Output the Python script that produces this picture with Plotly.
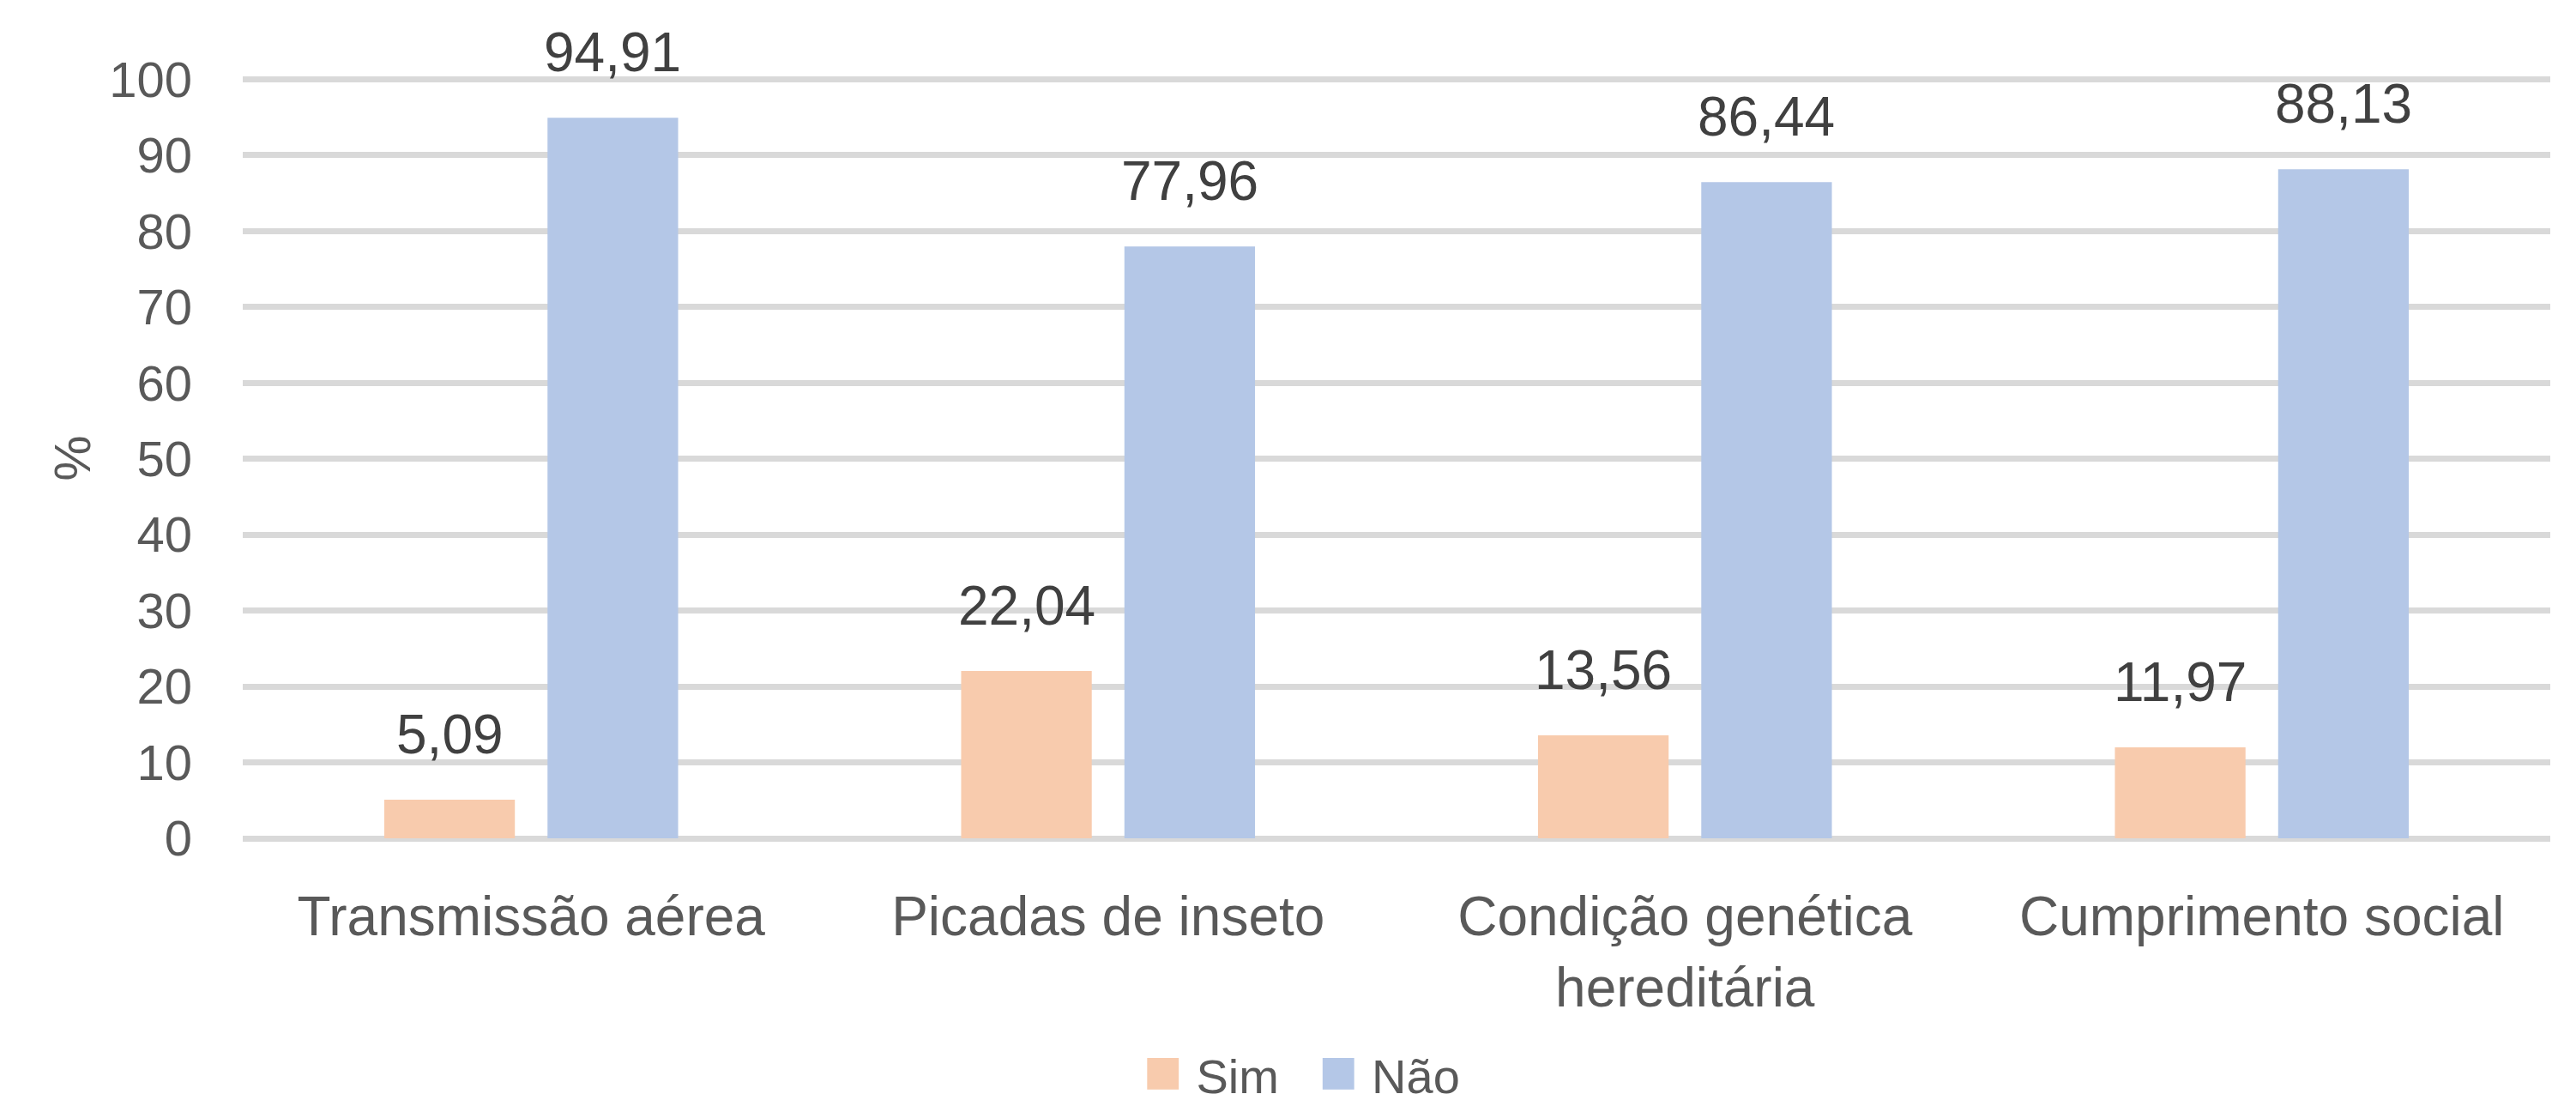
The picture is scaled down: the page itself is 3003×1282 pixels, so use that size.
import plotly.graph_objects as go

categories = ["Transmissão aérea", "Picadas de inseto", "Condição genética<br>hereditária", "Cumprimento social"]
sim = [5.09, 22.04, 13.56, 11.97]
nao = [94.91, 77.96, 86.44, 88.13]
series_names = ["Sim", "Não"]
colors = ["#F8CBAD", "#B4C7E7"]
y_ticks = [0, 10, 20, 30, 40, 50, 60, 70, 80, 90, 100]

FONT = "Liberation Sans, Arial, sans-serif"
BARGAP = 0.434
BARGROUPGAP = 0.2

fig = go.Figure()
for name, vals, col in zip(series_names, [sim, nao], colors):
    fig.add_trace(go.Bar(x=categories, y=vals, name=name, marker=dict(color=col, line=dict(width=0)),
                         showlegend=False))

def fmt(v):
    return f"{v:.2f}".replace(".", ",")

slot = (1 - BARGAP) / 2
for si, vals in enumerate([sim, nao]):
    off = (si - 0.5) * slot
    for i, v in enumerate(vals):
        fig.add_annotation(x=i + off, y=v, xref="x", yref="y", text=fmt(v), showarrow=False,
                           yanchor="bottom", yshift=38,
                           font=dict(family=FONT, size=64, color="#404040"))

# legend as text
leg = (f"<span style='color:{colors[0]};font-size:76px'>■</span> {series_names[0]}"
       f"&nbsp;&nbsp;&nbsp;<span style='color:{colors[1]};font-size:76px'>■</span> {series_names[1]}")
fig.add_annotation(x=0.459, y=-0.305, xref="paper", yref="paper", text=leg, showarrow=False,
                   xanchor="center", yanchor="middle",
                   font=dict(family=FONT, size=56, color="#595959"))

fig.update_layout(
    width=3003, height=1282,
    margin=dict(l=275, r=38, t=83, b=313),
    paper_bgcolor="white", plot_bgcolor="white",
    barmode="group", bargap=BARGAP, bargroupgap=BARGROUPGAP,
    font=dict(family=FONT, color="#595959"),
    xaxis=dict(showgrid=False, showline=False, zeroline=False, ticks="", automargin=False,
               tickfont=dict(size=64, color="#595959"), ticklabelstandoff=48),
    yaxis=dict(range=[0, 100.15], tickvals=y_ticks, showgrid=True, gridcolor="#D9D9D9", gridwidth=7,
               zeroline=True, zerolinecolor="#D9D9D9", zerolinewidth=7, showline=False, ticks="",
               automargin=False, tickfont=dict(size=58, color="#595959"), ticklabelstandoff=58,
               title=dict(text="%", font=dict(size=60, color="#595959"), standoff=2)),
)

fig.write_html("out.html")
